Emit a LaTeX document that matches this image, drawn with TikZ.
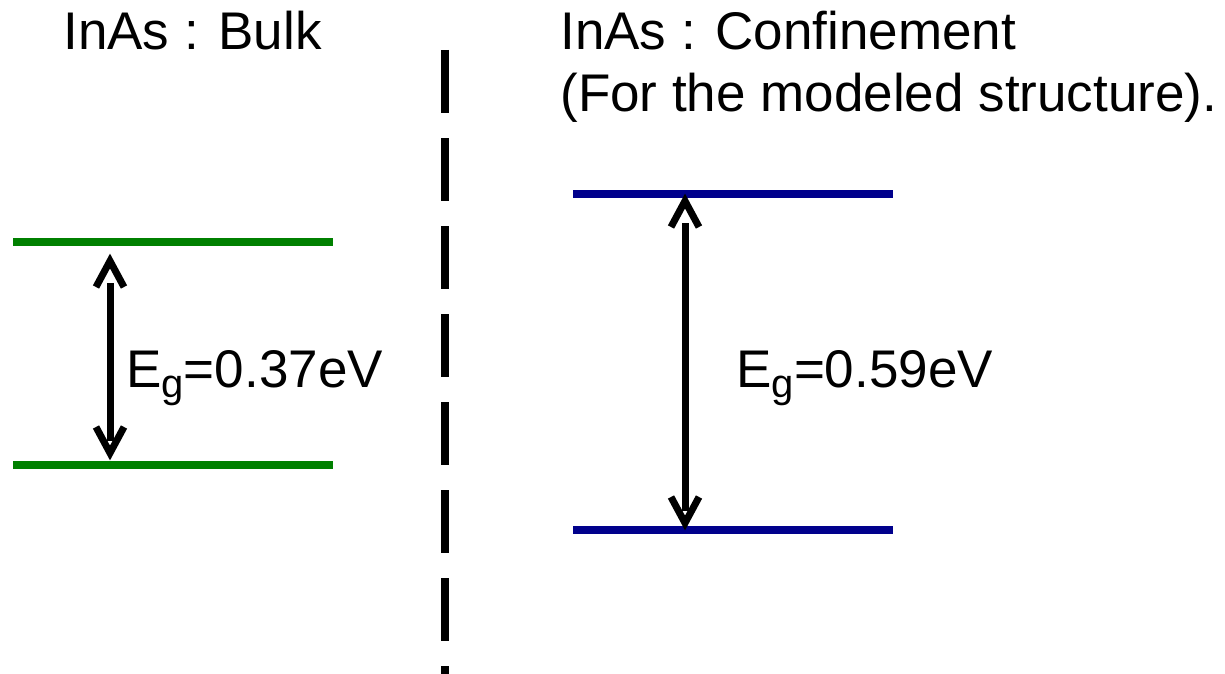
\documentclass[tikz,border=0pt]{standalone}
\usepackage{fontspec}
\setmainfont{Liberation Sans}

\definecolor{bulkgreen}{rgb}{0.0,0.5,0.0}
\definecolor{confblue}{rgb}{0.0,0.0,0.55}
\newcommand{\gsub}{\raisebox{-5pt}{\fontsize{20}{20}\selectfont g}}

\begin{document}
\begin{tikzpicture}[x=0.5pt,y=-0.5pt,
  level/.style={line width=4pt},
  shaft/.style={line width=3.5pt,shorten <=14.5pt,shorten >=9.5pt},
  chev/.style={line width=3.5pt,line cap=butt,line join=miter},
  lbl/.style={inner sep=0pt,anchor=base west,font=\fontsize{26.5}{31}\selectfont},
]
\useasboundingbox (0,0) rectangle (1225,674);
% titles
\node[lbl] (bulk) at (63,50) {InAs : Bulk};
\node[lbl,align=left] (conf) at (560,112) {InAs : Confinement\\(For the modeled structure).};
% divider
\coordinate (divtop) at (445,50);
\coordinate (divbot) at (445,674);
\draw[line width=4pt,dash pattern=on 31.5pt off 12.5pt] (divtop) -- (divbot);
% bulk levels
\coordinate (bcL) at (13,242);
\coordinate (bcR) at (333,242);
\coordinate (bvL) at (13,465);
\coordinate (bvR) at (333,465);
\draw[level,bulkgreen] (bcL) -- (bcR);
\draw[level,bulkgreen] (bvL) -- (bvR);
\coordinate (btop) at (110,254);
\coordinate (bbot) at (110,460);
\draw[shaft] (btop) -- (bbot);
\draw[chev] ([shift={(-14,33)}]btop) -- ([shift={(0,7)}]btop) -- ([shift={(14,33)}]btop);
\draw[chev] ([shift={(-14,-33)}]bbot) -- ([shift={(0,-7)}]bbot) -- ([shift={(14,-33)}]bbot);
\node[lbl] (egbulk) at (126,387) {E\gsub=0.37eV};
% confined levels
\coordinate (ccL) at (573,194);
\coordinate (ccR) at (893,194);
\coordinate (cvL) at (573,530);
\coordinate (cvR) at (893,530);
\draw[level,confblue] (ccL) -- (ccR);
\draw[level,confblue] (cvL) -- (cvR);
\coordinate (ctop) at (685,194);
\coordinate (cbot) at (685,530);
\draw[shaft] (ctop) -- (cbot);
\draw[chev] ([shift={(-14,33)}]ctop) -- ([shift={(0,7)}]ctop) -- ([shift={(14,33)}]ctop);
\draw[chev] ([shift={(-14,-33)}]cbot) -- ([shift={(0,-7)}]cbot) -- ([shift={(14,-33)}]cbot);
\node[lbl] (egconf) at (736,387) {E\gsub=0.59eV};
\end{tikzpicture}
\end{document}
